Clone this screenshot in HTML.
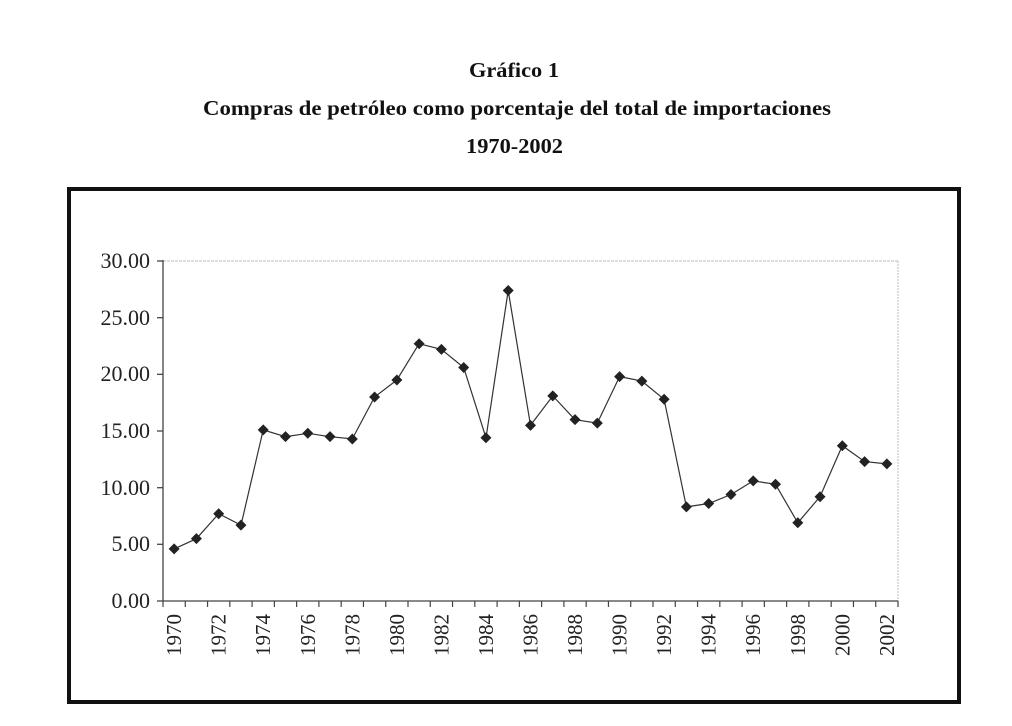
<!DOCTYPE html>
<html><head><meta charset="utf-8"><style>
html,body{margin:0;padding:0;background:#fff;}
body{width:1012px;height:726px;overflow:hidden;position:relative;font-family:"Liberation Serif",serif;}
</style></head><body>
<svg width="1012" height="726" viewBox="0 0 1012 726" xmlns="http://www.w3.org/2000/svg" style="position:absolute;left:0;top:0">
<g font-family="Liberation Serif, serif" font-weight="bold" font-size="21" fill="#111">
<text x="469" y="77" textLength="90" lengthAdjust="spacingAndGlyphs">Gráfico 1</text>
<text x="203" y="115" textLength="628" lengthAdjust="spacingAndGlyphs">Compras de petróleo como porcentaje del total de importaciones</text>
<text x="466" y="153" textLength="97" lengthAdjust="spacingAndGlyphs">1970-2002</text>
</g>
<rect x="69" y="189" width="890" height="513" fill="none" stroke="#111" stroke-width="4"/>
<line x1="163" y1="261" x2="898" y2="261" stroke="#bbb" stroke-width="1" stroke-dasharray="3,1"/>
<line x1="898" y1="261" x2="898" y2="601" stroke="#bbb" stroke-width="1" stroke-dasharray="2,1"/>
<g stroke="#444" stroke-width="1.3" fill="none">
<line x1="163" y1="260" x2="163" y2="602"/>
<line x1="157" y1="261" x2="163" y2="261"/>
<line x1="157" y1="317.7" x2="163" y2="317.7"/>
<line x1="157" y1="374.3" x2="163" y2="374.3"/>
<line x1="157" y1="431" x2="163" y2="431"/>
<line x1="157" y1="487.7" x2="163" y2="487.7"/>
<line x1="157" y1="544.3" x2="163" y2="544.3"/>
<line x1="157" y1="601" x2="163" y2="601"/>
<line x1="163" y1="601" x2="898" y2="601"/>
</g>
<g id="ticks" stroke="#444" stroke-width="1.2"></g>
<g font-family="Liberation Serif, serif" font-size="22" fill="#222" text-anchor="end">
<text x="150" y="268">30.00</text>
<text x="150" y="325">25.00</text>
<text x="150" y="381">20.00</text>
<text x="150" y="438">15.00</text>
<text x="150" y="495">10.00</text>
<text x="150" y="551">5.00</text>
<text x="150" y="608">0.00</text>
</g>
<g id="xl" font-family="Liberation Serif, serif" font-size="21" fill="#222" text-anchor="end"></g>
<polyline id="line" fill="none" stroke="#333" stroke-width="1.2"/>
<g id="pts" fill="#222"></g>
</svg>
<script>
var v=[4.6,5.5,7.7,6.7,15.1,14.5,14.8,14.5,14.3,18.0,19.5,22.7,22.2,20.6,14.4,27.4,15.5,18.1,16.0,15.7,19.8,19.4,17.8,8.3,8.6,9.4,10.6,10.3,6.9,9.2,13.7,12.3,12.1];
var ns="http://www.w3.org/2000/svg",pts=[],w=(898-163)/33;
var T=document.getElementById('ticks'),P=document.getElementById('pts'),X=document.getElementById('xl');
for(var i=0;i<=33;i++){var l=document.createElementNS(ns,'line');var x=163+w*i;l.setAttribute('x1',x);l.setAttribute('x2',x);l.setAttribute('y1',601);l.setAttribute('y2',607);T.appendChild(l);}
for(var i=0;i<v.length;i++){var x=163+w*(i+0.5),y=601-v[i]*11.333;pts.push(x.toFixed(1)+','+y.toFixed(1));
var d=document.createElementNS(ns,'path');d.setAttribute('d','M'+x+' '+(y-5.5)+'L'+(x+5.5)+' '+y+'L'+x+' '+(y+5.5)+'L'+(x-5.5)+' '+y+'Z');P.appendChild(d);
if(i%2==0){var t=document.createElementNS(ns,'text');t.setAttribute('transform','translate('+(x+7)+',614) rotate(-90)');t.textContent=1970+i;X.appendChild(t);}}
document.getElementById('line').setAttribute('points',pts.join(' '));
</script>
</body></html>
